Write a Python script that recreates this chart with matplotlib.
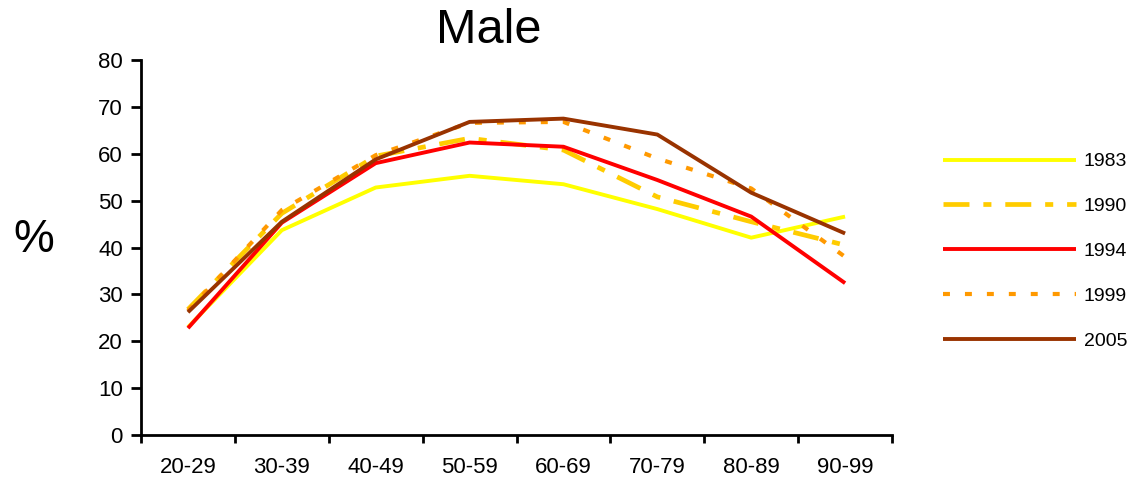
import matplotlib
matplotlib.use("Agg")
import matplotlib.pyplot as plt
import numpy as np

plt.rcParams['font.family'] = ['Liberation Sans', 'DejaVu Sans']
plt.rcParams['lines.scale_dashes'] = False

categories = ["20-29", "30-39", "40-49", "50-59", "60-69", "70-79", "80-89", "90-99"]
y1983 = [23.0, 43.7, 52.8, 55.3, 53.5, 48.2, 42.1, 46.6]
y1990 = [26.8, 47.3, 59.5, 63.3, 60.8, 50.8, 45.5, 40.5]
y1994 = [22.8, 45.3, 58.0, 62.4, 61.5, 54.4, 46.6, 32.4]
y1999 = [26.5, 48.0, 59.7, 66.6, 66.8, 59.0, 52.6, 38.0]
y2005 = [26.2, 45.5, 58.8, 66.8, 67.5, 64.1, 51.7, 43.0]
series_labels = ["1983", "1990", "1994", "1999", "2005"]
yticks = [0, 10, 20, 30, 40, 50, 60, 70, 80]

leg_size = 14

fig = plt.figure(figsize=(11.31, 4.86), dpi=100)
ax = fig.add_axes([0.1247, 0.1049, 0.664, 0.7716])

x = np.arange(len(categories))
ax.plot(x, y1983, color="#FFFF00", lw=2.8, label=series_labels[0], solid_capstyle="butt")
ax.plot(x, y1990, color="#FFCC00", lw=3.4, label=series_labels[1],
        dashes=(18.7, 10, 5.8, 10), dash_capstyle="butt")
ax.plot(x, y1994, color="#FF0000", lw=2.8, label=series_labels[2], solid_capstyle="butt")
ax.plot(x, y1999, color="#FF9900", lw=3.0, label=series_labels[3],
        dashes=(5, 10.8), dash_capstyle="butt")
ax.plot(x, y2005, color="#993300", lw=2.8, label=series_labels[4], solid_capstyle="butt")

ax.set_xlim(-0.5, len(categories) - 0.5)
ax.set_ylim(0, 80)
ax.set_yticks(yticks)
ax.set_xticks(x)
ax.set_xticklabels(categories)
ax.set_xticks(np.arange(-0.5, len(categories), 1.0), minor=True)
ax.tick_params(axis='x', which='major', length=0, pad=16, labelsize=16)
ax.tick_params(axis='x', which='minor', length=6, width=2, direction='out')
ax.tick_params(axis='y', length=7, width=2, direction='out', pad=6, labelsize=16)

for s in ['top', 'right']:
    ax.spines[s].set_visible(False)
for s in ['left', 'bottom']:
    ax.spines[s].set_linewidth(2)

fig.text(489 / 1131, 1 - 30 / 486, "Male", fontsize=35, ha='center', va='center')
fig.text(34 / 1131, 1 - 240 / 486, "%", fontsize=33, ha='center', va='center')

leg = fig.legend(loc='upper left', bbox_to_anchor=(935 / 1131, 1 - 145 / 486),
                 frameon=False, prop={'size': leg_size},
                 handlelength=96 / leg_size, handletextpad=0.4,
                 labelspacing=1.4, borderaxespad=0)

fig.savefig("out.png", dpi=100)
